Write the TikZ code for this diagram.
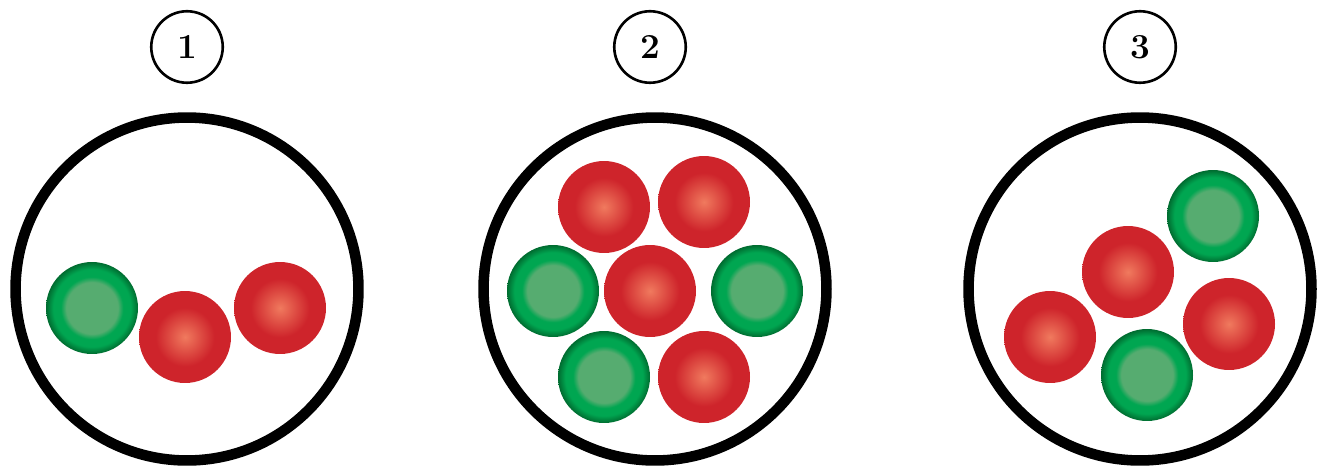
\documentclass[tikz,border=0pt]{standalone}
\usepackage{tikz}
\usepackage{xcolor}
\usetikzlibrary{positioning}
\definecolor{redcore}{RGB}{240,122,94}
\definecolor{redrim}{RGB}{206,36,43}
\definecolor{greenflat}{RGB}{86,172,112}
\definecolor{greenbright}{RGB}{0,166,81}
\definecolor{greendark}{RGB}{0,108,48}
\pgfdeclareradialshading{redglow}{\pgfpoint{0bp}{0bp}}{%
  color(0bp)=(redcore); color(16bp)=(redrim); color(25bp)=(redrim); color(50bp)=(redrim)}
\pgfdeclareradialshading{greenglow}{\pgfpoint{0bp}{0bp}}{%
  color(0bp)=(greenflat); color(14bp)=(greenflat); color(17bp)=(greenbright);
  color(21bp)=(greenbright); color(25bp)=(greendark); color(50bp)=(greendark)}

\begin{document}
\begin{tikzpicture}[x=0.02cm, y=-0.02cm,
    vessel/.style={circle, draw=black, line width=6pt, minimum size=6.86cm, inner sep=0pt},
    tag/.style={circle, draw=black, line width=1.5pt, minimum size=1.43cm, inner sep=0pt,
                font=\fontsize{20}{22}\selectfont\bfseries},
    redball/.style={circle, shading=redglow, minimum size=1.84cm, inner sep=0pt},
    greenball/.style={circle, shading=greenglow, minimum size=1.84cm, inner sep=0pt}
  ]
    \useasboundingbox (0,0) rectangle (1317,466);

    % numbered tags
    \node[tag] (tag1) at (187,47) {1};
    \node[tag] (tag2) at (650,47) {2};
    \node[tag] (tag3) at (1140,47) {3};

    % containers
    \node[vessel] (box1) at (187,289) {};
    \node[vessel] (box2) at (655,289) {};
    \node[vessel] (box3) at (1140,289) {};

    % container 1
    \node[greenball] (g11) at (92,308) {};
    \node[redball]   (r11) at (185,337) {};
    \node[redball]   (r12) at (280,308) {};

    % container 2
    \node[redball]   (r21) at (604,207) {};
    \node[redball]   (r22) at (704,202) {};
    \node[greenball] (g21) at (553,291) {};
    \node[redball]   (r23) at (650,291) {};
    \node[greenball] (g22) at (757,291) {};
    \node[greenball] (g23) at (604,377) {};
    \node[redball]   (r24) at (704,377) {};

    % container 3
    \node[greenball] (g31) at (1213,216) {};
    \node[redball]   (r31) at (1128,272) {};
    \node[redball]   (r32) at (1050,337) {};
    \node[redball]   (r33) at (1229,324) {};
    \node[greenball] (g32) at (1147,375) {};
  \end{tikzpicture}
\end{document}
